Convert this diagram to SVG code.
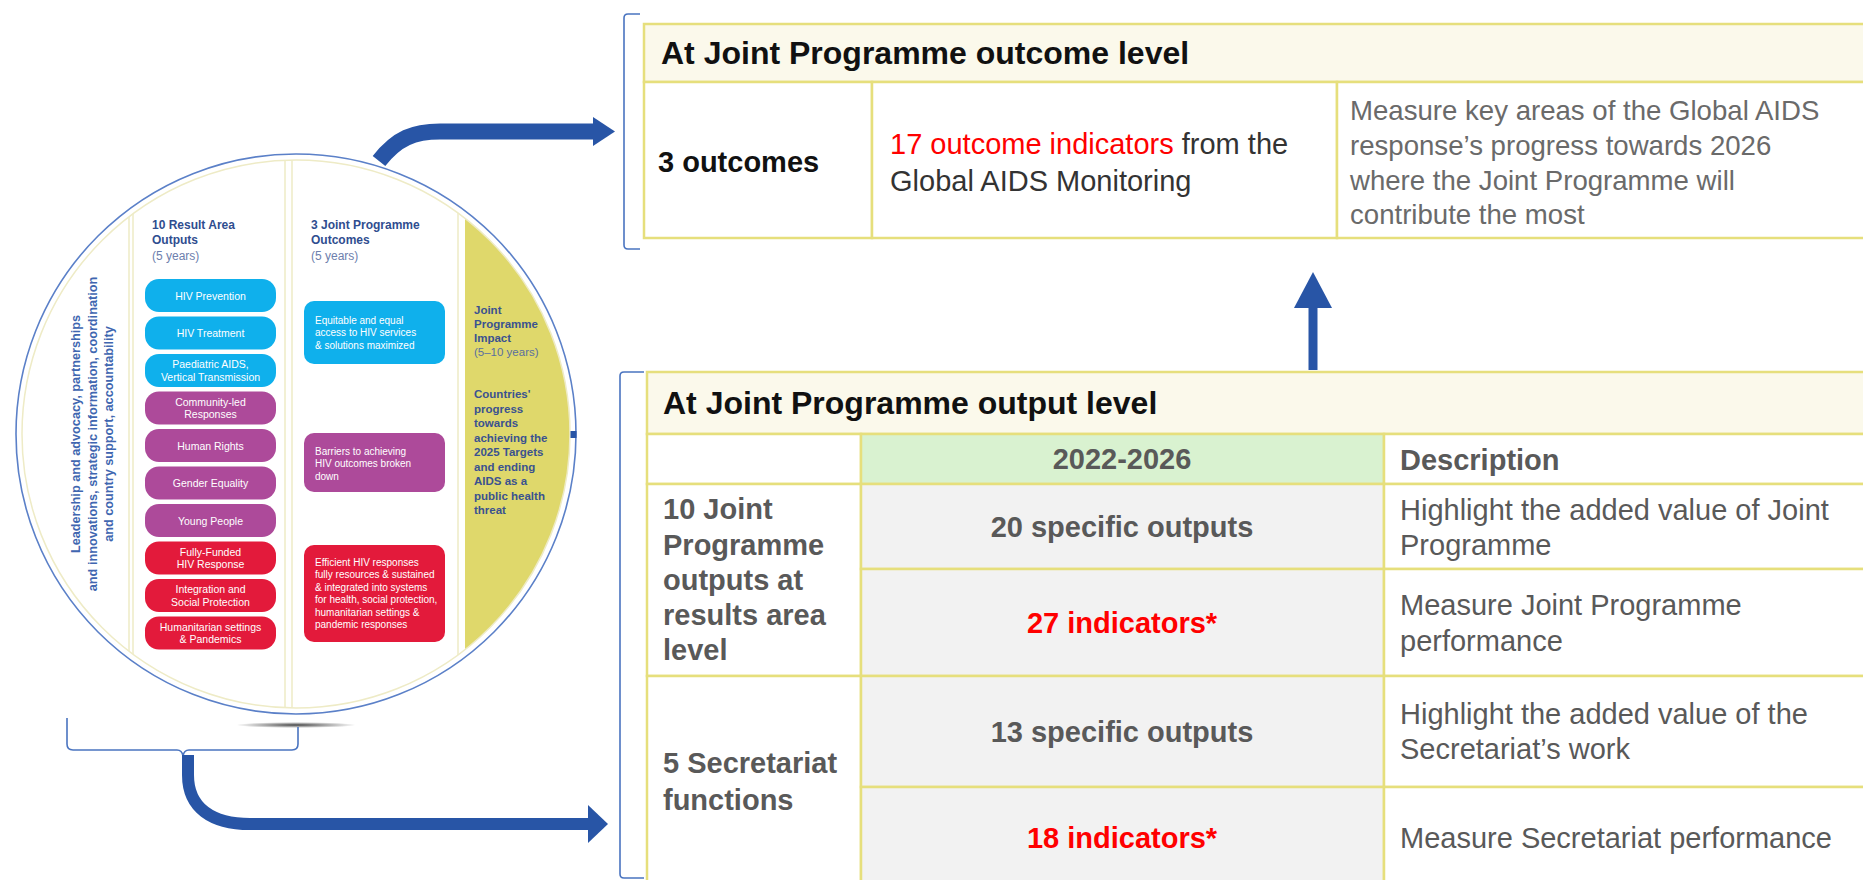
<svg xmlns="http://www.w3.org/2000/svg" width="1863" height="880" viewBox="0 0 1863 880">
<style>
  .t{font-family:"Liberation Sans",Arial,sans-serif}
  .hd{font-size:32px;font-weight:bold;fill:#111}
  .b29{font-size:29px;font-weight:bold;fill:#595959}
  .r29{font-size:29px;fill:#595959}
  .red{fill:#ff0000}
  .cell{stroke:#e6df7c;stroke-width:2.5}
  .pill{font-size:10.5px;fill:#fff;text-anchor:middle}
  .box{font-size:10px;fill:#fff}
  .ch{font-size:12px;font-weight:bold;fill:#2f4d8f}
  .cy{font-size:12px;fill:#6d80ad}
  .imp{font-size:11.5px;font-weight:bold;fill:#3a5290}
  .rot{font-size:12.7px;font-weight:bold;fill:#4066b0;text-anchor:middle}
  .cyan{fill:#0fb0ec}
  .purp{fill:#ad4a9a}
  .redf{fill:#e31a3b}
  .conn{fill:none;stroke:#2855a6}
  .brk{fill:none;stroke:#4a74c0;stroke-width:1.6}
  .c3{font-size:27.6px;fill:#6a6a6a}
</style>
<defs>
  <clipPath id="circ"><circle cx="296" cy="434" r="274"/></clipPath>
  <radialGradient id="shadow" cx="0.5" cy="0.5" r="0.5">
    <stop offset="0" stop-color="#333" stop-opacity="0.9"/>
    <stop offset="1" stop-color="#333" stop-opacity="0"/>
  </radialGradient>
</defs>
<rect width="1863" height="880" fill="#fff"/>

<!-- Circle diagram -->
<g id="circle-diagram">
  <ellipse cx="296" cy="725" rx="60" ry="3" fill="url(#shadow)"/>
  <circle cx="296" cy="434" r="280" fill="#fff" stroke="#5b80c8" stroke-width="1.6"/>
  <g clip-path="url(#circ)">
    <rect x="0" y="100" width="129" height="700" fill="#fff" stroke="#eeebc6" stroke-width="1.5"/>
    <rect x="133" y="100" width="152" height="700" fill="#fff" stroke="#eeebc6" stroke-width="1.5"/>
    <rect x="292" y="100" width="166" height="700" fill="#fff" stroke="#eeebc6" stroke-width="1.5"/>
    <rect x="465" y="100" width="200" height="700" fill="#dfd86b"/>
  </g>
  <circle cx="296" cy="434" r="274" fill="none" stroke="#eeebc6" stroke-width="1.5"/>
  <rect x="570.5" y="431" width="6" height="7" fill="#2855a6"/>
</g>

<g id="leadership-text" class="t">
  <text class="rot" transform="translate(80,434) rotate(-90)">Leadership and advocacy, partnerships</text>
  <text class="rot" transform="translate(97,434) rotate(-90)">and innovations, strategic information, coordination</text>
  <text class="rot" transform="translate(113,434) rotate(-90)">and country support, accountability</text>
</g>

<g id="result-area-outputs" class="t">
  <text class="ch" x="152" y="229">10 Result Area</text>
  <text class="ch" x="152" y="244">Outputs</text>
  <text class="cy" x="152" y="260">(5 years)</text>
  <g id="ra-hiv-prevention"><rect class="cyan" x="145" y="279" width="131" height="33" rx="14"/><text class="pill" x="210.5" y="299.5">HIV Prevention</text></g>
  <g id="ra-hiv-treatment"><rect class="cyan" x="145" y="316.5" width="131" height="33" rx="14"/><text class="pill" x="210.5" y="337">HIV Treatment</text></g>
  <g id="ra-paediatric"><rect class="cyan" x="145" y="354" width="131" height="33" rx="14"/><text class="pill" x="210.5" y="368">Paediatric AIDS,</text><text class="pill" x="210.5" y="380.5">Vertical Transmission</text></g>
  <g id="ra-community"><rect class="purp" x="145" y="391.5" width="131" height="33" rx="14"/><text class="pill" x="210.5" y="405.5">Community-led</text><text class="pill" x="210.5" y="418">Responses</text></g>
  <g id="ra-human-rights"><rect class="purp" x="145" y="429" width="131" height="33" rx="14"/><text class="pill" x="210.5" y="449.5">Human Rights</text></g>
  <g id="ra-gender"><rect class="purp" x="145" y="466.5" width="131" height="33" rx="14"/><text class="pill" x="210.5" y="487">Gender Equality</text></g>
  <g id="ra-young"><rect class="purp" x="145" y="504" width="131" height="33" rx="14"/><text class="pill" x="210.5" y="524.5">Young People</text></g>
  <g id="ra-funded"><rect class="redf" x="145" y="541.5" width="131" height="33" rx="14"/><text class="pill" x="210.5" y="555.5">Fully-Funded</text><text class="pill" x="210.5" y="568">HIV Response</text></g>
  <g id="ra-integration"><rect class="redf" x="145" y="579" width="131" height="33" rx="14"/><text class="pill" x="210.5" y="593">Integration and</text><text class="pill" x="210.5" y="605.5">Social Protection</text></g>
  <g id="ra-humanitarian"><rect class="redf" x="145" y="616.5" width="131" height="33" rx="14"/><text class="pill" x="210.5" y="630.5">Humanitarian settings</text><text class="pill" x="210.5" y="643">&amp; Pandemics</text></g>
</g>

<g id="jp-outcomes" class="t">
  <text class="ch" x="311" y="229">3 Joint Programme</text>
  <text class="ch" x="311" y="244">Outcomes</text>
  <text class="cy" x="311" y="260">(5 years)</text>
  <g id="oc-equitable"><rect class="cyan" x="304" y="301" width="141" height="63" rx="10"/>
    <text class="box" x="315" y="323.5">Equitable and equal</text>
    <text class="box" x="315" y="336">access to HIV services</text>
    <text class="box" x="315" y="348.5">&amp; solutions maximized</text></g>
  <g id="oc-barriers"><rect class="purp" x="304" y="433" width="141" height="59" rx="10"/>
    <text class="box" x="315" y="454.5">Barriers to achieving</text>
    <text class="box" x="315" y="467">HIV outcomes broken</text>
    <text class="box" x="315" y="479.5">down</text></g>
  <g id="oc-efficient"><rect class="redf" x="304" y="545" width="141" height="97" rx="10"/>
    <text class="box" x="315" y="565.5">Efficient HIV responses</text>
    <text class="box" x="315" y="578">fully resources &amp; sustained</text>
    <text class="box" x="315" y="590.5">&amp; integrated into systems</text>
    <text class="box" x="315" y="603">for health, social protection,</text>
    <text class="box" x="315" y="615.5">humanitarian settings &amp;</text>
    <text class="box" x="315" y="628">pandemic responses</text></g>
</g>

<g id="jp-impact" class="t">
  <text class="imp" x="474" y="314">Joint</text>
  <text class="imp" x="474" y="328">Programme</text>
  <text class="imp" x="474" y="342">Impact</text>
  <text class="imp" x="474" y="356" style="font-weight:normal;fill:#5a6f9f">(5–10 years)</text>
  <text class="imp" x="474" y="398">Countries'</text>
  <text class="imp" x="474" y="412.5">progress</text>
  <text class="imp" x="474" y="427">towards</text>
  <text class="imp" x="474" y="441.5">achieving the</text>
  <text class="imp" x="474" y="456">2025 Targets</text>
  <text class="imp" x="474" y="470.5">and ending</text>
  <text class="imp" x="474" y="485">AIDS as a</text>
  <text class="imp" x="474" y="499.5">public health</text>
  <text class="imp" x="474" y="514">threat</text>
</g>

<g id="circle-brace">
  <path class="brk" d="M67,718 L67,744 Q67,750 73,750 L177,750 Q182,750 183,756 Q184,750 189,750 L292,750 Q298,750 298,744 L298,727"/>
</g>

<!-- Outcome level table -->
<g id="outcome-table" class="t">
  <path class="brk" d="M640,14 L628,14 Q624,14 624,18 L624,245 Q624,249 628,249 L640,249"/>
  <rect class="cell" x="644" y="24" width="1230" height="58" fill="#fbf9eb"/>
  <rect class="cell" x="644" y="82" width="228" height="156" fill="#fff"/>
  <rect class="cell" x="872" y="82" width="465" height="156" fill="#fff"/>
  <rect class="cell" x="1337" y="82" width="540" height="156" fill="#fff"/>
  <text class="hd" x="661" y="64">At Joint Programme outcome level</text>
  <text x="658" y="172" style="font-size:29px;font-weight:bold;fill:#111">3 outcomes</text>
  <text x="890" y="154" style="font-size:29px;fill:#333"><tspan class="red">17 outcome indicators</tspan> from the</text>
  <text x="890" y="191" style="font-size:29px;fill:#333">Global AIDS Monitoring</text>
  <text class="c3" x="1350" y="120">Measure key areas of the Global AIDS</text>
  <text class="c3" x="1350" y="155">response’s progress towards 2026</text>
  <text class="c3" x="1350" y="190">where the Joint Programme will</text>
  <text class="c3" x="1350" y="224">contribute the most</text>
</g>

<!-- Output level table -->
<g id="output-table" class="t">
  <path class="brk" d="M644,372 L624,372 Q620,372 620,376 L620,874 Q620,878 624,878 L644,878"/>
  <rect class="cell" x="647" y="372" width="1230" height="62" fill="#fbf9eb"/>
  <rect class="cell" x="647" y="434" width="214" height="50" fill="#fff"/>
  <rect class="cell" x="861" y="434" width="523" height="50" fill="#d9f2d0"/>
  <rect class="cell" x="1384" y="434" width="493" height="50" fill="#fff"/>
  <rect class="cell" x="647" y="484" width="214" height="192" fill="#fff"/>
  <rect class="cell" x="861" y="484" width="523" height="85" fill="#f2f2f2"/>
  <rect class="cell" x="1384" y="484" width="493" height="85" fill="#fff"/>
  <rect class="cell" x="861" y="569" width="523" height="107" fill="#f2f2f2"/>
  <rect class="cell" x="1384" y="569" width="493" height="107" fill="#fff"/>
  <rect class="cell" x="647" y="676" width="214" height="230" fill="#fff"/>
  <rect class="cell" x="861" y="676" width="523" height="111" fill="#f2f2f2"/>
  <rect class="cell" x="1384" y="676" width="493" height="111" fill="#fff"/>
  <rect class="cell" x="861" y="787" width="523" height="119" fill="#f2f2f2"/>
  <rect class="cell" x="1384" y="787" width="493" height="119" fill="#fff"/>
  <text class="hd" x="663" y="414">At Joint Programme output level</text>
  <text class="b29" x="1122" y="469" text-anchor="middle">2022-2026</text>
  <text class="b29" x="1400" y="470">Description</text>
  <text class="b29" x="663" y="519">10 Joint</text>
  <text class="b29" x="663" y="555">Programme</text>
  <text class="b29" x="663" y="590">outputs at</text>
  <text class="b29" x="663" y="625">results area</text>
  <text class="b29" x="663" y="660">level</text>
  <text class="b29" x="1122" y="537" text-anchor="middle">20 specific outputs</text>
  <text class="r29" x="1400" y="520">Highlight the added value of Joint</text>
  <text class="r29" x="1400" y="555">Programme</text>
  <text class="b29 red" x="1122" y="633" text-anchor="middle">27 indicators*</text>
  <text class="r29" x="1400" y="615">Measure Joint Programme</text>
  <text class="r29" x="1400" y="651">performance</text>
  <text class="b29" x="663" y="773">5 Secretariat</text>
  <text class="b29" x="663" y="810">functions</text>
  <text class="b29" x="1122" y="742" text-anchor="middle">13 specific outputs</text>
  <text class="r29" x="1400" y="724">Highlight the added value of the</text>
  <text class="r29" x="1400" y="759">Secretariat’s work</text>
  <text class="b29 red" x="1122" y="848" text-anchor="middle">18 indicators*</text>
  <text class="r29" x="1400" y="848">Measure Secretariat performance</text>
</g>

<!-- Connectors -->
<g id="connectors">
  <path class="conn" stroke-width="16" d="M379,161 C397,138 414,131.5 440,131.5 L596,131.5"/>
  <polygon fill="#2855a6" points="593,117 615,131.5 593,146"/>
  <path class="conn" stroke-width="9" d="M1313,370 L1313,306"/>
  <polygon fill="#2855a6" points="1294,308 1313,272 1332,308"/>
  <path class="conn" stroke-width="12" d="M188,755 L188,775 C188,808 212,824 250,824 L592,824"/>
  <polygon fill="#2855a6" points="588,805 608,824 588,843"/>
</g>
</svg>
